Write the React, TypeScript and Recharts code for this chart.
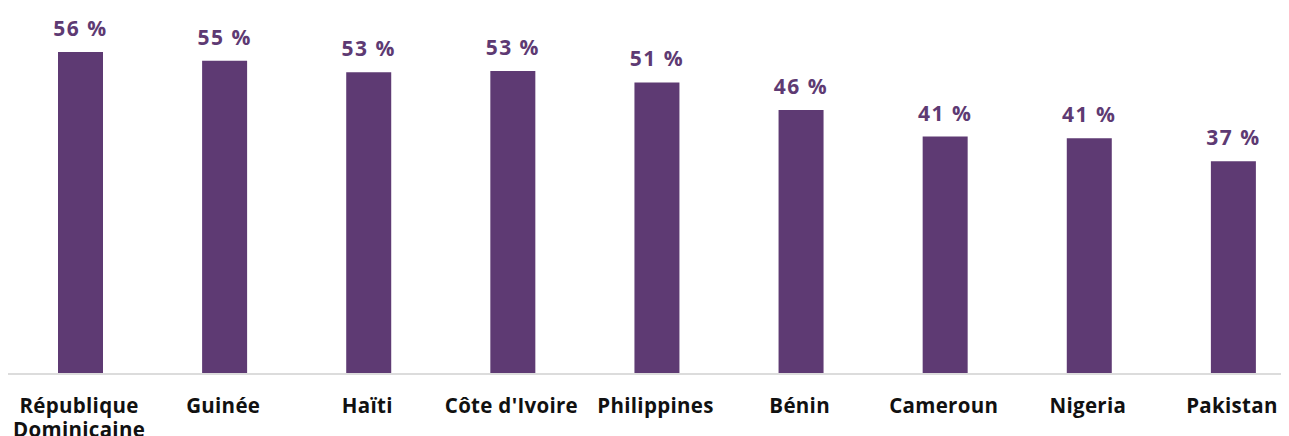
import React from "react";
import { BarChart, Bar, XAxis, YAxis, LabelList } from "recharts";

const countries = [
  "République Dominicaine",
  "Guinée",
  "Haïti",
  "Côte d'Ivoire",
  "Philippines",
  "Bénin",
  "Cameroun",
  "Nigeria",
  "Pakistan",
];
const values = [56.0, 54.5, 52.5, 52.7, 50.7, 45.9, 41.3, 41.0, 37.0];
const labels = ["56 %", "55 %", "53 %", "53 %", "51 %", "46 %", "41 %", "41 %", "37 %"];

const data = countries.map((c, i) => ({ name: c, value: values[i], label: labels[i] }));

const FONT = "'Open Sans', 'DejaVu Sans', sans-serif";
const PURPLE = "#5e3a73";

const Tick = (props: any) => {
  const { x, y, payload } = props;
  const text: string = payload.value;
  const lines = text.length > 14 ? text.split(" ") : [text];
  return (
    <g transform={`translate(${x},${y})`}>
      <text
        textAnchor="middle"
        fontFamily={FONT}
        fontWeight={700}
        fontSize={20.5}
        fill="#111"
        letterSpacing={0.3}
      >
        {lines.map((l, i) => (
          <tspan key={i} x={-1} dy={i === 0 ? 31 : 24}>
            {l}
          </tspan>
        ))}
      </text>
    </g>
  );
};

export default function App() {
  return (
    <BarChart
      width={1297}
      height={428}
      data={data}
      margin={{ top: 21, right: 0, bottom: 2, left: 0 }}
      barCategoryGap={99}
    >
      <YAxis hide domain={[0, 60]} />
      <XAxis
        dataKey="name"
        axisLine={{ stroke: "#dcdcdc", strokeWidth: 2 }}
        tickLine={false}
        interval={0}
        height={60}
        tick={<Tick />}
      />
      <Bar dataKey="value" fill={PURPLE} barSize={45} isAnimationActive={false}>
        <LabelList
          dataKey="label"
          position="top"
          offset={16}
          fontFamily={FONT}
          fontWeight={700}
          fontSize={21}
          letterSpacing={1.5}
          fill={PURPLE}
        />
      </Bar>
    </BarChart>
  );
}
